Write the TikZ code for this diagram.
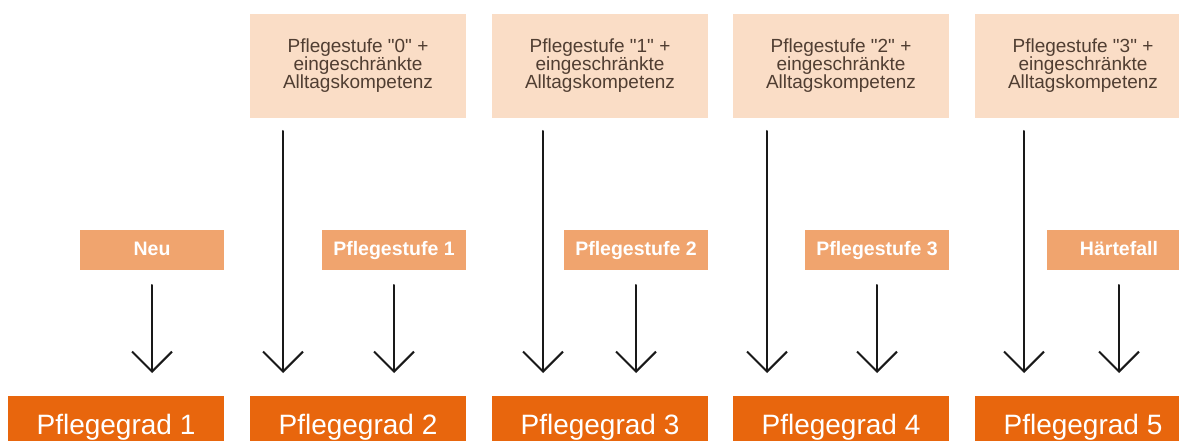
\documentclass[tikz,border=0pt]{standalone}
\usepackage{fontspec}
\setmainfont{Liberation Sans}
\usetikzlibrary{arrows.meta}
\definecolor{stufe}{RGB}{250,221,198}
\definecolor{neu}{RGB}{240,164,110}
\definecolor{grad}{RGB}{232,102,13}
\definecolor{stufetext}{RGB}{80,62,50}
\newcommand{\qs}[1]{Pflegestufe \textquotedbl#1\textquotedbl{} +\\eingeschränkte\\Alltagskompetenz}
\begin{document}
\begin{tikzpicture}[x=1pt, y=-1pt, line join=round, line cap=round,
	arr/.style={line width=2pt, black!90, -{Straight Barb[length=20pt, width=40pt]}},
	stufebox/.style={fill=stufe, text=stufetext, anchor=north west, inner sep=0pt, outer sep=0pt,
		minimum width=216pt, minimum height=104pt, align=center, font=\fontsize{19}{18}\selectfont},
	neubox/.style={fill=neu, text=white, anchor=north west, inner sep=0pt, outer sep=0pt,
		minimum width=144pt, minimum height=40pt, text height=14pt, text depth=3pt,
		font=\fontsize{19.5}{19.5}\selectfont\bfseries},
	gradbox/.style={fill=grad, text=white, anchor=north west, inner sep=0pt, outer sep=0pt,
		minimum width=216pt, minimum height=56pt, text height=20pt, text depth=0pt,
		font=\fontsize{28}{28}\selectfont}]
	%%%%%%%%%%%%%%%%%%%%%%%%%%%%%%%%%
	\clip (0,0) rectangle (1179,441);
	\fill[white] (0,0) rectangle (1179,441);
	%%%%%%%%%%%%%%%%%%%%%%%%%%%%%%%%%
	\node[stufebox] (S0) at (250,14) {\qs{0}};
	\node[stufebox] (S1) at (492,14) {\qs{1}};
	\node[stufebox] (S2) at (733,14) {\qs{2}};
	\node[stufebox] (S3) at (975,14) {\qs{3}};
	%%%%%%%%%%%%%%%%%%%%%%%%%%%%%%%%%
	\node[neubox] (N)  at (80,230)   {Neu};
	\node[neubox] (P1) at (322,230)  {Pflegestufe 1};
	\node[neubox] (P2) at (564,230)  {Pflegestufe 2};
	\node[neubox] (P3) at (805,230)  {Pflegestufe 3};
	\node[neubox] (H)  at (1047,230) {Härtefall};
	%%%%%%%%%%%%%%%%%%%%%%%%%%%%%%%%%
	\node[gradbox] (G1) at (8,396)   {Pflegegrad 1};
	\node[gradbox] (G2) at (250,396) {Pflegegrad 2};
	\node[gradbox] (G3) at (492,396) {Pflegegrad 3};
	\node[gradbox] (G4) at (733,396) {Pflegegrad 4};
	\node[gradbox] (G5) at (975,396) {Pflegegrad 5};
	%%%%%%%%%%%%%%%%%%%%%%%%%%%%%%%%%
	\begin{scope}[shorten <=13pt, shorten >=23pt]
		\draw[arr] ([xshift=33pt]S0.south west) -- ([xshift=33pt]G2.north west);
		\draw[arr] ([xshift=51pt]S1.south west) -- ([xshift=51pt]G3.north west);
		\draw[arr] ([xshift=34pt]S2.south west) -- ([xshift=34pt]G4.north west);
		\draw[arr] ([xshift=49pt]S3.south west) -- ([xshift=49pt]G5.north west);
	\end{scope}
	\begin{scope}[shorten <=15pt, shorten >=23pt]
		\draw[arr] (N.south)  -- (N.south |- G1.north);
		\draw[arr] (P1.south) -- (P1.south |- G2.north);
		\draw[arr] (P2.south) -- (P2.south |- G3.north);
		\draw[arr] (P3.south) -- (P3.south |- G4.north);
		\draw[arr] (H.south)  -- (H.south |- G5.north);
	\end{scope}
	%%%%%%%%%%%%%%%%%%%%%%%%%%%%%%%%%
\end{tikzpicture}
\end{document}
